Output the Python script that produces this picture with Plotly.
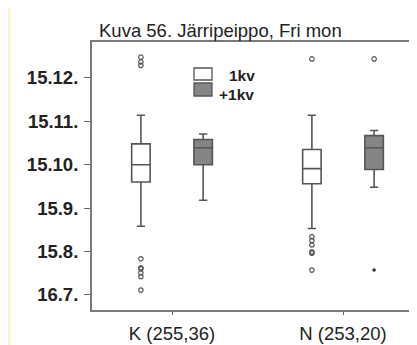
import plotly.graph_objects as go

# ---- data ----
categories = ["K (255,36)", "N (253,20)"]
cat_pos = [0, 1]
series_names = ["1kv", "+1kv"]
tick_vals = [12, 11, 10, 9, 8, 7]
tick_text = ["15.12.", "15.11.", "15.10.", "15.9.", "15.8.", "16.7."]

# box statistics per category (K, N)
kv1_q1 = [9.60, 9.56]
kv1_med = [10.00, 9.91]
kv1_q3 = [10.48, 10.35]
kv1_lo = [8.58, 8.53]
kv1_hi = [11.14, 11.14]

kv2_q1 = [10.00, 9.89]
kv2_med = [10.39, 10.39]
kv2_q3 = [10.58, 10.67]
kv2_lo = [9.18, 9.48]
kv2_hi = [10.71, 10.79]

# outliers
kv1_out = [
    [12.48, 12.37, 12.29, 7.83, 7.62, 7.60, 7.51, 7.42, 7.11],
    [12.44, 8.34, 8.25, 8.15, 7.99, 7.96, 7.57],
]
kv2_out = [
    [],
    [12.44],
]
kv2_extreme = [
    [],
    [7.57],
]

offset = 0.182
box_w = 0.108
line_c = "#555555"
fill_1 = "#ffffff"
fill_2 = "#858585"

fig = go.Figure()

for i, p in enumerate(cat_pos):
    fig.add_trace(go.Box(
        x=[p - offset], q1=[kv1_q1[i]], median=[kv1_med[i]], q3=[kv1_q3[i]],
        lowerfence=[kv1_lo[i]], upperfence=[kv1_hi[i]],
        width=box_w, whiskerwidth=0.45, fillcolor=fill_1,
        line=dict(color=line_c, width=1.6), boxpoints=False, showlegend=False))
    fig.add_trace(go.Box(
        x=[p + offset], q1=[kv2_q1[i]], median=[kv2_med[i]], q3=[kv2_q3[i]],
        lowerfence=[kv2_lo[i]], upperfence=[kv2_hi[i]],
        width=box_w, whiskerwidth=0.45, fillcolor=fill_2,
        line=dict(color=line_c, width=1.6), boxpoints=False, showlegend=False))
    if kv1_out[i]:
        fig.add_trace(go.Scatter(
            x=[p - offset] * len(kv1_out[i]), y=kv1_out[i], mode="markers",
            marker=dict(symbol="circle-open", size=4.5, color="#555",
                        line=dict(width=1.2)), showlegend=False))
    if kv2_out[i]:
        fig.add_trace(go.Scatter(
            x=[p + offset] * len(kv2_out[i]), y=kv2_out[i], mode="markers",
            marker=dict(symbol="circle-open", size=4.5, color="#555",
                        line=dict(width=1.2)), showlegend=False))
    if kv2_extreme[i]:
        fig.add_trace(go.Scatter(
            x=[p + offset] * len(kv2_extreme[i]), y=kv2_extreme[i], mode="markers",
            marker=dict(symbol="circle", size=3.5, color="#333"), showlegend=False))

font_fam = "Liberation Sans, Arial, sans-serif"

fig.update_layout(
    width=417, height=345,
    margin=dict(l=84, r=3, t=34, b=43, autoexpand=False),
    paper_bgcolor="white", plot_bgcolor="white",
    font=dict(family=font_fam, size=18, color="#222"),
    xaxis=dict(
        range=[-0.468, 1.462], tickvals=cat_pos, ticktext=categories,
        showgrid=False, zeroline=False, showline=True, mirror=True,
        linecolor="#7a7a7a", linewidth=2, ticks="outside", ticklen=3,
        tickcolor="#666", tickfont=dict(size=18.5, color="#222"),
        ticklabelstandoff=3, automargin=False,
    ),
    yaxis=dict(
        range=[6.65, 12.83], tickvals=tick_vals, ticktext=tick_text,
        showgrid=False, zeroline=False, showline=True, mirror=True,
        linecolor="#7a7a7a", linewidth=2, ticks="outside", ticklen=6,
        tickcolor="#666", tickfont=dict(size=18.5, color="#222", weight="bold"),
        ticklabelstandoff=2, automargin=False,
    ),
    shapes=[
        # legend swatches (plot-area fractions)
        dict(type="rect", xref="paper", yref="paper",
             x0=(186 - 84) / 330, x1=(204 - 84) / 330,
             y0=(302 - 72) / 268, y1=(302 - 60) / 268,
             fillcolor=fill_1, line=dict(color=line_c, width=1.3)),
        dict(type="rect", xref="paper", yref="paper",
             x0=(186 - 84) / 330, x1=(204 - 84) / 330,
             y0=(302 - 88) / 268, y1=(302 - 75) / 268,
             fillcolor=fill_2, line=dict(color=line_c, width=1.3)),
        # pale yellow strip at the left edge of the page
        dict(type="rect", xref="paper", yref="paper",
             x0=-84 / 330, x1=-81 / 330, y0=-43 / 268, y1=302 / 268,
             fillcolor="#fdf4d6", line=dict(width=0), layer="below"),
    ],
    annotations=[
        dict(text="Kuva 56. Järripeippo, Fri mon", xref="paper", yref="paper",
             x=(89 - 84) / 330, y=(302 - 23) / 268, xanchor="left", yanchor="middle",
             showarrow=False, font=dict(size=18.5, color="#222")),
        dict(text=series_names[0], xref="paper", yref="paper",
             x=(219 - 84) / 330, y=(302 - 67) / 268, xanchor="left", yanchor="middle",
             showarrow=False, font=dict(size=15.5, color="#222", weight="bold")),
        dict(text=series_names[1], xref="paper", yref="paper",
             x=(209 - 84) / 330, y=(302 - 86) / 268, xanchor="left", yanchor="middle",
             showarrow=False, font=dict(size=15.5, color="#222", weight="bold")),
    ],
)

fig.write_html("out.html")
